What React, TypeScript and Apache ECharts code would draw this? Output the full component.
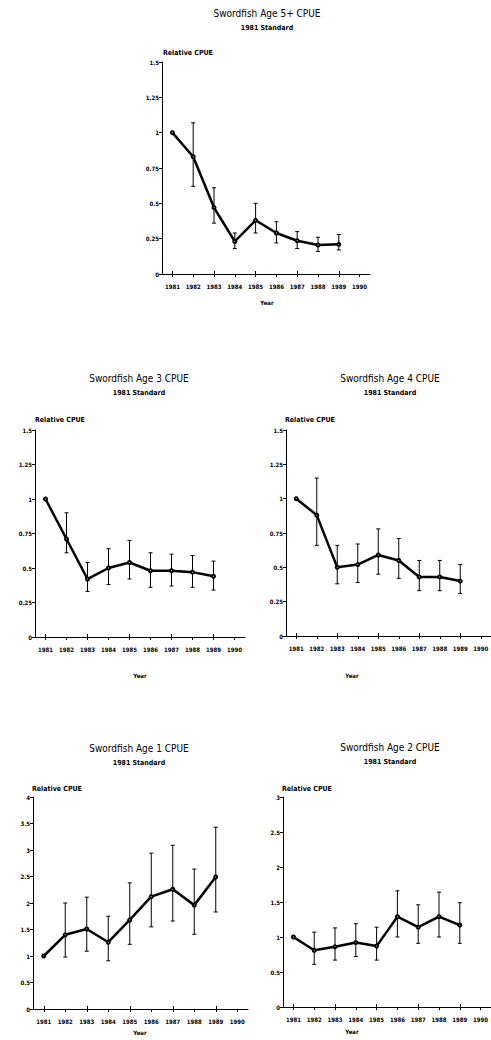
import React, { useEffect, useRef } from "react";
import * as echarts from "echarts";

const years = ["1981", "1982", "1983", "1984", "1985", "1986", "1987", "1988", "1989", "1990"];

const age5Mean = [1.0, 0.83, 0.47, 0.23, 0.38, 0.29, 0.235, 0.205, 0.21];
const age5Upper = [null, 1.07, 0.61, 0.29, 0.5, 0.37, 0.3, 0.26, 0.28];
const age5Lower = [null, 0.62, 0.36, 0.18, 0.29, 0.22, 0.18, 0.16, 0.17];

const age3Mean = [1.0, 0.71, 0.42, 0.5, 0.54, 0.48, 0.48, 0.47, 0.44];
const age3Upper = [null, 0.9, 0.54, 0.64, 0.7, 0.61, 0.6, 0.59, 0.55];
const age3Lower = [null, 0.61, 0.33, 0.38, 0.42, 0.36, 0.37, 0.36, 0.34];

const age4Mean = [1.0, 0.88, 0.5, 0.52, 0.59, 0.55, 0.43, 0.43, 0.4];
const age4Upper = [null, 1.15, 0.66, 0.67, 0.78, 0.71, 0.55, 0.55, 0.52];
const age4Lower = [null, 0.66, 0.38, 0.39, 0.45, 0.42, 0.33, 0.33, 0.31];

const age1Mean = [1.0, 1.4, 1.51, 1.26, 1.68, 2.12, 2.26, 1.96, 2.49];
const age1Upper = [null, 2.0, 2.11, 1.75, 2.38, 2.94, 3.09, 2.64, 3.43];
const age1Lower = [null, 0.98, 1.09, 0.91, 1.22, 1.55, 1.66, 1.41, 1.83];

const age2Mean = [1.0, 0.81, 0.86, 0.92, 0.87, 1.29, 1.14, 1.29, 1.17];
const age2Upper = [null, 1.07, 1.13, 1.19, 1.14, 1.66, 1.46, 1.64, 1.49];
const age2Lower = [null, 0.61, 0.67, 0.72, 0.67, 1.0, 0.91, 1.0, 0.91];

const titles = [
  "Swordfish Age 5+ CPUE",
  "Swordfish Age 3 CPUE",
  "Swordfish Age 4 CPUE",
  "Swordfish Age 1 CPUE",
  "Swordfish Age 2 CPUE",
];
const subtitle = "1981 Standard";
const yName = "Relative CPUE";
const xName = "Year";

const FONT = '"Liberation Sans Narrow", "DejaVu Sans Condensed", "Arial Narrow", sans-serif';

const panels = [
  { title: titles[0], mean: age5Mean, upper: age5Upper, lower: age5Lower, yMax: 1.5, yInt: 0.25,
    left: 162, top: 62, width: 208, height: 212, titleX: 267, titleY: 13, relX: 163, relY: 53, yearX: 267, yearY: 302 },
  { title: titles[1], mean: age3Mean, upper: age3Upper, lower: age3Lower, yMax: 1.5, yInt: 0.25,
    left: 35, top: 430, width: 210, height: 207, titleX: 139, titleY: 378, relX: 35, relY: 420, yearX: 140, yearY: 675 },
  { title: titles[2], mean: age4Mean, upper: age4Upper, lower: age4Lower, yMax: 1.5, yInt: 0.25,
    left: 286, top: 430, width: 213, height: 206, titleX: 390, titleY: 378, relX: 285, relY: 420, yearX: 352, yearY: 675 },
  { title: titles[3], mean: age1Mean, upper: age1Upper, lower: age1Lower, yMax: 4, yInt: 0.5,
    left: 33, top: 797, width: 215, height: 212, titleX: 139, titleY: 748, relX: 32, relY: 789, yearX: 140, yearY: 1032 },
  { title: titles[4], mean: age2Mean, upper: age2Upper, lower: age2Lower, yMax: 3, yInt: 0.5,
    left: 283, top: 797, width: 216, height: 210, titleX: 390, titleY: 747, relX: 282, relY: 789, yearX: 352, yearY: 1031 },
];

function buildOption() {
  const grid: any[] = [];
  const xAxis: any[] = [];
  const yAxis: any[] = [];
  const series: any[] = [];
  const graphic: any[] = [];

  panels.forEach((p, i) => {
    grid.push({ left: p.left, top: p.top, width: p.width, height: p.height, containLabel: false });
    xAxis.push({
      gridIndex: i,
      type: "category",
      data: years,
      boundaryGap: true,
      position: "bottom",
      axisLine: { show: true, lineStyle: { color: "#000", width: 1 } },
      axisTick: { show: true, alignWithLabel: true, length: 3, lineStyle: { color: "#000" } },
      axisLabel: { interval: 0, fontSize: 6, fontWeight: "bold", color: "#000", margin: 9, fontFamily: FONT },
      splitLine: { show: false },
    });
    xAxis.push({
      gridIndex: i,
      type: "category",
      data: years,
      boundaryGap: true,
      position: "bottom",
      axisLine: { show: false },
      axisTick: { show: true, alignWithLabel: true, inside: true, length: 3, lineStyle: { color: "#000" } },
      axisLabel: { show: false },
      splitLine: { show: false },
    });
    yAxis.push({
      gridIndex: i,
      type: "value",
      min: 0,
      max: p.yMax,
      interval: p.yInt,
      axisLine: { show: true, lineStyle: { color: "#000", width: 1 } },
      axisTick: { show: true, length: 3, lineStyle: { color: "#000" } },
      axisLabel: { fontSize: 6, fontWeight: "bold", color: "#000", margin: 3, fontFamily: FONT },
      splitLine: { show: false },
    });

    series.push({
      type: "line",
      xAxisIndex: 2 * i,
      yAxisIndex: i,
      data: p.mean,
      symbol: "emptyCircle",
      symbolSize: 3,
      lineStyle: { color: "#000", width: 2.5 },
      itemStyle: { color: "#000", borderWidth: 1 },
      z: 3,
    });

    const bars: any[] = [];
    p.mean.forEach((_, k) => {
      if (p.upper[k] != null && p.lower[k] != null) bars.push([k, p.lower[k], p.upper[k]]);
    });
    series.push({
      type: "custom",
      xAxisIndex: 2 * i,
      yAxisIndex: i,
      data: bars,
      encode: { x: 0, y: [1, 2] },
      z: 2,
      renderItem: (params: any, api: any) => {
        const lo = api.coord([api.value(0), api.value(1)]);
        const hi = api.coord([api.value(0), api.value(2)]);
        const cap = 2;
        const style = { stroke: "#000", lineWidth: 1 };
        return {
          type: "group",
          children: [
            { type: "line", shape: { x1: lo[0], y1: lo[1], x2: hi[0], y2: hi[1] }, style },
            { type: "line", shape: { x1: hi[0] - cap, y1: hi[1], x2: hi[0] + cap, y2: hi[1] }, style },
            { type: "line", shape: { x1: lo[0] - cap, y1: lo[1], x2: lo[0] + cap, y2: lo[1] }, style },
          ],
        };
      },
    });

    graphic.push({
      type: "text",
      x: p.titleX,
      y: p.titleY,
      style: { text: p.title, align: "center", verticalAlign: "middle", font: `10px ${FONT}`, fill: "#000" },
    });
    graphic.push({
      type: "text",
      x: p.titleX,
      y: p.titleY + 15,
      style: { text: subtitle, align: "center", verticalAlign: "middle", font: `bold 7px ${FONT}`, fill: "#000" },
    });
    graphic.push({
      type: "text",
      x: p.relX,
      y: p.relY,
      style: { text: yName, align: "left", verticalAlign: "middle", font: `bold 7px ${FONT}`, fill: "#000" },
    });
    graphic.push({
      type: "text",
      x: p.yearX,
      y: p.yearY,
      style: { text: xName, align: "center", verticalAlign: "middle", font: `bold 6px ${FONT}`, fill: "#000" },
    });
  });

  return {
    animation: false,
    backgroundColor: "#fff",
    grid,
    xAxis,
    yAxis,
    series,
    graphic,
  };
}

export default function App() {
  const ref = useRef<HTMLDivElement>(null);
  useEffect(() => {
    if (!ref.current) return;
    const chart = echarts.init(ref.current, null, { renderer: "svg" });
    chart.setOption(buildOption());
    return () => chart.dispose();
  }, []);
  return (
    <div
      ref={ref}
      style={{ position: "absolute", left: 0, top: 0, width: 491, height: 1040, background: "#fff" }}
    />
  );
}
